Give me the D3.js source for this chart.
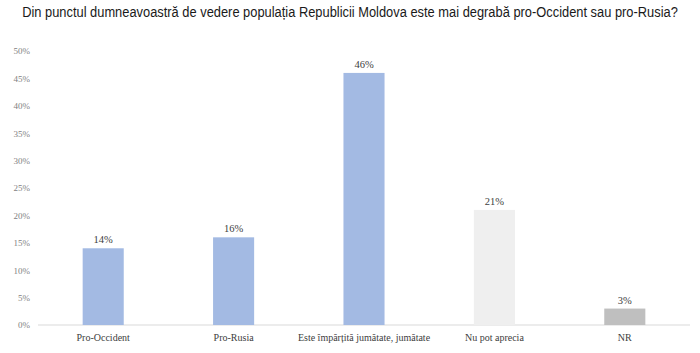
<!DOCTYPE html>
<html>
<head>
<meta charset="utf-8">
<script src="https://cdn.jsdelivr.net/npm/d3@7"></script>
<style>
  body { margin: 0; background: #fff; }
</style>
</head>
<body>
<div id="chart"></div>
<script>
const titleText = "Din punctul dumneavoastră de vedere populația Republicii Moldova este mai degrabă pro-Occident sau pro-Rusia?";
const categories = ["Pro-Occident", "Pro-Rusia", "Este împărțită jumătate, jumătate", "Nu pot aprecia", "NR"];
const values = [14, 16, 46, 21, 3];
const barColors = ["#a3bae3", "#a3bae3", "#a3bae3", "#efefef", "#bfbfbf"];
const yTicks = [0, 5, 10, 15, 20, 25, 30, 35, 40, 45, 50];

const margin = { top: 51, right: 10, bottom: 28, left: 38 },
  width = 700 - margin.left - margin.right,
  height = 353 - margin.top - margin.bottom;

const svg = d3.select("#chart").append("svg")
  .attr("width", 700)
  .attr("height", 353);

// title: squeezed horizontally to look like the narrow font of the original
const titleG = svg.append("g");
const title = titleG.append("text")
  .attr("text-anchor", "middle")
  .style("font-family", "'Liberation Sans', Arial, sans-serif")
  .style("font-size", "15px")
  .style("fill", "#1a1a1a")
  .text(titleText);
const natural = title.node().getComputedTextLength();
const sx = Math.min(1, 656 / natural);
titleG.attr("transform", "translate(350,17) scale(" + sx + ",1)");

const canvas = svg.append("g")
  .attr("transform", "translate(" + margin.left + "," + margin.top + ")");

const xScale = d3.scaleBand()
  .domain(categories)
  .range([0, width])
  .paddingInner(0.685)
  .paddingOuter(0.3425);

const yScale = d3.scaleLinear()
  .domain([0, 50])
  .range([height, 0]);

// y axis labels only
const yAxis = d3.axisLeft(yScale)
  .tickValues(yTicks)
  .tickSize(0)
  .tickPadding(8)
  .tickFormat(d => d + "%");

const yg = canvas.append("g").call(yAxis);
yg.select(".domain").remove();
yg.selectAll("text")
  .style("font-family", "'Liberation Serif', 'DejaVu Serif', serif")
  .style("font-size", "9px")
  .style("fill", "#7f7f7f");

// baseline
canvas.append("line")
  .attr("x1", 0).attr("x2", width)
  .attr("y1", height).attr("y2", height)
  .attr("stroke", "#d9d9d9")
  .attr("stroke-width", 1);

// bars
canvas.selectAll(".bar")
  .data(values)
  .enter().append("rect")
  .attr("class", "bar")
  .attr("x", (d, i) => xScale(categories[i]))
  .attr("y", d => yScale(d))
  .attr("width", xScale.bandwidth())
  .attr("height", d => height - yScale(d))
  .attr("fill", (d, i) => barColors[i]);

// value labels
canvas.selectAll(".val")
  .data(values)
  .enter().append("text")
  .attr("class", "val")
  .attr("x", (d, i) => xScale(categories[i]) + xScale.bandwidth() / 2)
  .attr("y", d => yScale(d) - 5)
  .attr("text-anchor", "middle")
  .style("font-family", "'Liberation Serif', 'DejaVu Serif', serif")
  .style("font-size", "10.5px")
  .style("fill", "#404040")
  .text(d => d + "%");

// x axis labels
const xAxis = d3.axisBottom(xScale).tickSize(0).tickPadding(9);
const xg = canvas.append("g")
  .attr("transform", "translate(0," + height + ")")
  .call(xAxis);
xg.select(".domain").remove();
xg.selectAll("text")
  .style("font-family", "'Liberation Serif', 'DejaVu Serif', serif")
  .style("font-size", "10px")
  .style("fill", "#404040");
</script>
</body>
</html>
